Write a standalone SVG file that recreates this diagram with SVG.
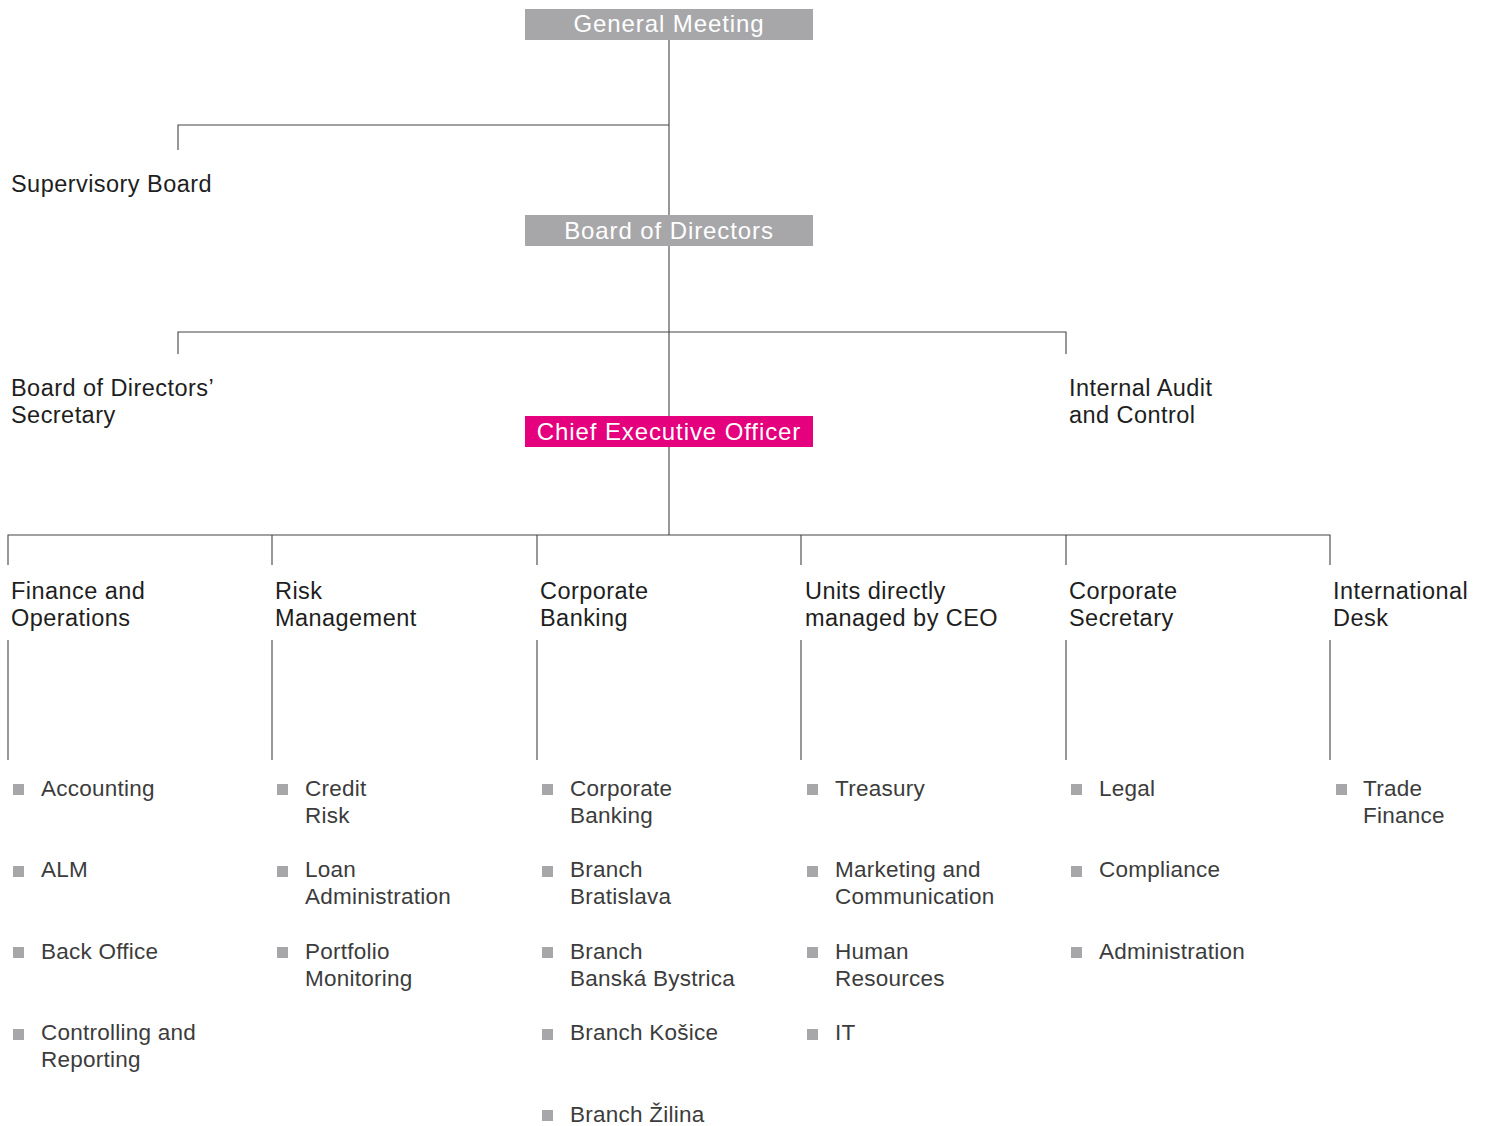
<svg xmlns="http://www.w3.org/2000/svg" width="1488" height="1126" viewBox="0 0 1488 1126">
<style>
.ln{stroke:#444;stroke-width:1.1;fill:none}
.box{fill:#a7a7aa}
.ceo{fill:#e5007d}
.bt{font-family:"Liberation Sans",Arial,sans-serif;font-size:24px;fill:#fff;text-anchor:middle;letter-spacing:0.9px}
.h{font-family:"Liberation Sans",Arial,sans-serif;font-size:23.5px;fill:#1e1e1e;letter-spacing:0.45px}
.it{font-family:"Liberation Sans",Arial,sans-serif;font-size:22.5px;fill:#3c3c3c;letter-spacing:0.25px}
.b{fill:#a7a7aa}
</style>
<g id="connectors">
<path class="ln" d="M669 40V215M178 150V125H669"/>
<path class="ln" d="M669 246V416M178 354V332H1066V354"/>
<path class="ln" d="M669 447V535M8 565V535H1330V565M272 535V565M537 535V565M801 535V565M1066 535V565"/>
<path class="ln" d="M8 640V760M272 640V760M537 640V760M801 640V760M1066 640V760M1330 640V760"/>
</g>
<g id="general-meeting"><rect class="box" x="525" y="9" width="288" height="31"/><text class="bt" x="669" y="32">General Meeting</text></g>
<g id="supervisory-board"><text class="h" x="11" y="192">Supervisory Board</text></g>
<g id="board-of-directors"><rect class="box" x="525" y="215" width="288" height="31"/><text class="bt" x="669" y="239">Board of Directors</text></g>
<g id="bod-secretary"><text class="h" x="11" y="396">Board of Directors’</text><text class="h" x="11" y="423">Secretary</text></g>
<g id="internal-audit"><text class="h" x="1069" y="396">Internal Audit</text><text class="h" x="1069" y="423">and Control</text></g>
<g id="ceo"><rect class="ceo" x="525" y="416" width="288" height="31"/><text class="bt" x="669" y="440">Chief Executive Officer</text></g>

<g id="finance-operations">
<text class="h" x="11" y="599">Finance and</text><text class="h" x="11" y="626">Operations</text>
<rect class="b" x="13" y="784" width="11" height="11"/><text class="it" x="41" y="796">Accounting</text>
<rect class="b" x="13" y="866" width="11" height="11"/><text class="it" x="41" y="877">ALM</text>
<rect class="b" x="13" y="947" width="11" height="11"/><text class="it" x="41" y="959">Back Office</text>
<rect class="b" x="13" y="1029" width="11" height="11"/><text class="it" x="41" y="1040">Controlling and</text><text class="it" x="41" y="1067">Reporting</text>
</g>
<g id="risk-management">
<text class="h" x="275" y="599">Risk</text><text class="h" x="275" y="626">Management</text>
<rect class="b" x="277" y="784" width="11" height="11"/><text class="it" x="305" y="796">Credit</text><text class="it" x="305" y="823">Risk</text>
<rect class="b" x="277" y="866" width="11" height="11"/><text class="it" x="305" y="877">Loan</text><text class="it" x="305" y="904">Administration</text>
<rect class="b" x="277" y="947" width="11" height="11"/><text class="it" x="305" y="959">Portfolio</text><text class="it" x="305" y="986">Monitoring</text>
</g>
<g id="corporate-banking">
<text class="h" x="540" y="599">Corporate</text><text class="h" x="540" y="626">Banking</text>
<rect class="b" x="542" y="784" width="11" height="11"/><text class="it" x="570" y="796">Corporate</text><text class="it" x="570" y="823">Banking</text>
<rect class="b" x="542" y="866" width="11" height="11"/><text class="it" x="570" y="877">Branch</text><text class="it" x="570" y="904">Bratislava</text>
<rect class="b" x="542" y="947" width="11" height="11"/><text class="it" x="570" y="959">Branch</text><text class="it" x="570" y="986">Banská Bystrica</text>
<rect class="b" x="542" y="1029" width="11" height="11"/><text class="it" x="570" y="1040">Branch Košice</text>
<rect class="b" x="542" y="1110" width="11" height="11"/><text class="it" x="570" y="1122">Branch Žilina</text>
</g>
<g id="units-ceo">
<text class="h" x="805" y="599">Units directly</text><text class="h" x="805" y="626">managed by CEO</text>
<rect class="b" x="807" y="784" width="11" height="11"/><text class="it" x="835" y="796">Treasury</text>
<rect class="b" x="807" y="866" width="11" height="11"/><text class="it" x="835" y="877">Marketing and</text><text class="it" x="835" y="904">Communication</text>
<rect class="b" x="807" y="947" width="11" height="11"/><text class="it" x="835" y="959">Human</text><text class="it" x="835" y="986">Resources</text>
<rect class="b" x="807" y="1029" width="11" height="11"/><text class="it" x="835" y="1040">IT</text>
</g>
<g id="corporate-secretary">
<text class="h" x="1069" y="599">Corporate</text><text class="h" x="1069" y="626">Secretary</text>
<rect class="b" x="1071" y="784" width="11" height="11"/><text class="it" x="1099" y="796">Legal</text>
<rect class="b" x="1071" y="866" width="11" height="11"/><text class="it" x="1099" y="877">Compliance</text>
<rect class="b" x="1071" y="947" width="11" height="11"/><text class="it" x="1099" y="959">Administration</text>
</g>
<g id="international-desk">
<text class="h" x="1333" y="599">International</text><text class="h" x="1333" y="626">Desk</text>
<rect class="b" x="1336" y="784" width="11" height="11"/><text class="it" x="1363" y="796">Trade</text><text class="it" x="1363" y="823">Finance</text>
</g>
</svg>
